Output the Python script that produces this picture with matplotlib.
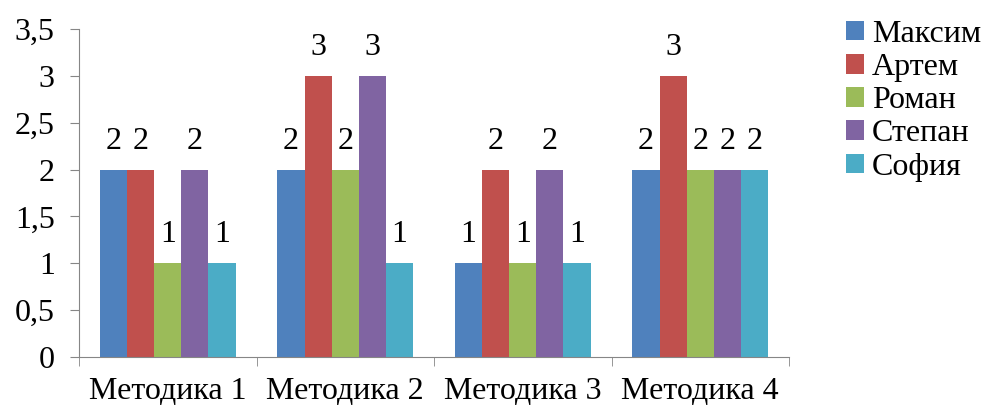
import numpy as np
import matplotlib.pyplot as plt
from matplotlib.ticker import FuncFormatter

plt.rcParams['font.family'] = ['Liberation Serif', 'DejaVu Serif']

metodiki = ['Методика 1', 'Методика 2', 'Методика 3', 'Методика 4']
imena = ['Максим', 'Артем', 'Роман', 'Степан', 'София']
maksim = [2, 2, 1, 2]
artem = [2, 3, 2, 3]
roman = [1, 2, 1, 2]
stepan = [2, 3, 2, 2]
sofiya = [1, 1, 1, 2]
serii = [maksim, artem, roman, stepan, sofiya]
colores = ['#4F81BD', '#C0504D', '#9BBB59', '#8064A2', '#4BACC6']

fs = 23
fig = plt.figure(figsize=(9.81, 4.08), dpi=100)
ax = fig.add_axes([79/981, 51/408, 710/981, 328/408])

x = np.arange(len(metodiki))
w = 0.153
for i, (vals, c, nombre) in enumerate(zip(serii, colores, imena)):
    pos = x + (i - 2) * w
    barras = ax.bar(pos, vals, width=w, color=c, label=nombre)
    for b, v in zip(barras, vals):
        ax.annotate(str(v), (b.get_x() + b.get_width()/2, v),
                    xytext=(0, 10), textcoords='offset points',
                    ha='center', va='bottom', fontsize=fs)

ax.set_xlim(-0.5, 3.5)
ax.set_ylim(0, 3.5)
ax.set_yticks(np.arange(0, 3.51, 0.5))
ax.yaxis.set_major_formatter(FuncFormatter(lambda v, p: ('%g' % v).replace('.', ',')))
ax.set_xticks(x)
ax.set_xticklabels(metodiki)
ax.set_xticks(np.arange(-0.5, 3.6, 1), minor=True)
ax.tick_params(axis='x', which='major', length=0, labelsize=fs, pad=14.5)
ax.tick_params(axis='x', which='minor', length=6.5, color='#868686')
ax.tick_params(axis='y', length=6.5, color='#868686', labelsize=fs, pad=11)
for s in ['top', 'right']:
    ax.spines[s].set_visible(False)
for s in ['left', 'bottom']:
    ax.spines[s].set_color('#868686')

ax.legend(loc='upper left', bbox_to_anchor=(846/981, 1 - 20/408),
          bbox_transform=fig.transFigure, frameon=False,
          fontsize=fs, handlelength=0.56, handleheight=0.56,
          handletextpad=0.25, labelspacing=0.13, borderaxespad=0, borderpad=0)

fig.savefig('out.png', dpi=100)
